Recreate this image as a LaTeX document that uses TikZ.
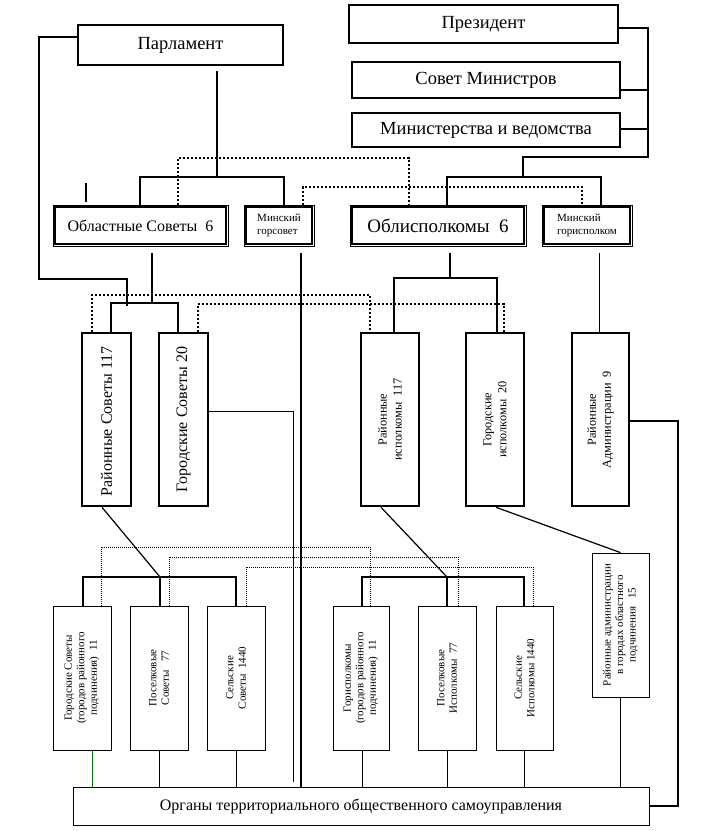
\documentclass[tikz,border=0pt]{standalone}
\usepackage{fontspec}
\setmainfont{Liberation Serif}
\begin{document}
\begin{tikzpicture}[x=1pt,y=-1pt,
  thickbox/.style={draw, line width=2.6pt, fill=white, inner sep=0pt, align=center},
  thinbox/.style={draw, line width=0.8pt, fill=white, inner sep=0pt, align=center},
  dblbox/.style={draw, line width=0.9pt, fill=white, inner sep=0pt, align=center},
  innerline/.style={line width=1.8pt},
  conn/.style={line width=1.6pt},
  connm/.style={line width=1.2pt},
  connt/.style={line width=0.8pt},
  dotk/.style={line width=2pt, dash pattern=on 2pt off 2pt},
  dott/.style={line width=0.7pt, dash pattern=on 1pt off 1pt},
  vtext/.style={rotate=90, align=center, inner sep=0pt},
  ftop/.style={font=\fontsize{18.5}{22}\selectfont},
  fbig/.style={font=\fontsize{16}{19}\selectfont},
  fmid/.style={font=\fontsize{12.3}{15}\selectfont},
  fsml/.style={font=\fontsize{11}{12.5}\selectfont},
  ftiny/.style={font=\fontsize{11}{13}\selectfont},
]
\path[use as bounding box] (0,0) rectangle (701,831);

% ---------- top boxes ----------
\node[thickbox, ftop, minimum width=205, minimum height=40] (parl) at (180.5,45) {\raisebox{-2pt}{Парламент}};
\node[thickbox, ftop, minimum width=269, minimum height=38] (pres) at (483.5,24) {Президент};
\node[thickbox, ftop, minimum width=268, minimum height=36] (sovmin) at (486,80) {Совет Министров};
\node[thickbox, ftop, minimum width=268, minimum height=34] (minist) at (486,130) {Министерства и ведомства};

% ---------- second row (double frames) ----------
\node[dblbox, fbig, minimum width=175, minimum height=41] (oblsov) at (140.5,225.5) {Областные Советы\ \ 6};
\node[dblbox, ftiny, minimum width=70, minimum height=41, align=left] (minsov) at (279,225.5) {Минский\\горсовет};
\node[dblbox, font=\fontsize{19}{22}\selectfont, minimum width=176, minimum height=41] (oblisp) at (438,225.5) {Облисполкомы\ \ 6};
\node[dblbox, ftiny, minimum width=90, minimum height=41, align=left] (minisp) at (587,225.5) {Минский\\горисполком};
\foreach \n in {oblsov,minsov,oblisp,minisp}
  \draw[innerline] ([shift={(2.8,2.8)}]\n.north west) rectangle ([shift={(-2.8,-2.8)}]\n.south east);

% ---------- vertical boxes ----------
\node[thickbox, minimum width=49, minimum height=173,
  label={[vtext, fbig, xshift=-2pt]center:Районные Советы 117}] (raisov) at (106.5,419.5) {};
\node[thickbox, minimum width=49, minimum height=173,
  label={[vtext, fbig]center:Городские Советы 20}] (gorsov) at (183.5,419.5) {};
\node[thickbox, minimum width=58, minimum height=173,
  label={[vtext, fmid]center:{Районные\\исполкомы\ \ 117}}] (raiisp) at (390,419.5) {};
\node[thickbox, minimum width=58, minimum height=173,
  label={[vtext, fmid]center:{Городские\\исполкомы\ \ 20}}] (gorisp) at (495,419.5) {};
\node[thickbox, minimum width=57, minimum height=173,
  label={[vtext, fmid]center:{Районные\\Администрации\ \ 9}}] (raiadm) at (600.5,419.5) {};
\node[thinbox, minimum width=57, minimum height=144,
  label={[vtext, fsml]center:{Районные администрации\\в городах областного\\подчинения\ \ \ 15}}] (raiadm2) at (620.5,625) {};

% ---------- bottom boxes ----------
\node[thinbox, minimum width=58, minimum height=144,
  label={[vtext, fsml]center:{Городские Советы\\(городов районного\\подчинения)\ \ 11}}] (b1) at (82,678) {};
\node[thinbox, minimum width=58, minimum height=144,
  label={[vtext, fsml]center:{Поселковые\\Советы\ \ \ 77}}] (b2) at (159,678) {};
\node[thinbox, minimum width=58, minimum height=144,
  label={[vtext, fsml]center:{Сельские\\Советы\ \ 1440}}] (b3) at (236,678) {};
\node[thinbox, minimum width=56, minimum height=144,
  label={[vtext, fsml]center:{Горисполкомы\\(городов районного\\подчинения)\ \ 11}}] (b4) at (361,678) {};
\node[thinbox, minimum width=58, minimum height=144,
  label={[vtext, fsml]center:{Поселковые\\Исполкомы\ \ 77}}] (b5) at (447,678) {};
\node[thinbox, minimum width=57, minimum height=144,
  label={[vtext, fsml]center:{Сельские\\Исполкомы\ 1440}}] (b6) at (524.5,678) {};
\node[thinbox, minimum width=576, minimum height=38, font=\fontsize{16}{18}\selectfont] (organy) at (361,806)
  {Органы территориального общественного самоуправления};

% ---------- coordinates ----------
\coordinate (pA) at (39,37);  \coordinate (pB) at (39,279);
\coordinate (pC) at (127,279); \coordinate (pD) at (127,306);
\coordinate (j1) at (217,177); \coordinate (j1l) at (140,177); \coordinate (j1r) at (284,177);
\coordinate (pr1) at (648,28); \coordinate (pr2) at (648,157);
\coordinate (pr3) at (523,157); \coordinate (pr4) at (523,177);
\coordinate (pr5) at (648,90); \coordinate (pr6) at (648,129);
\coordinate (j2l) at (447,177); \coordinate (j2r) at (601,177);
\coordinate (d1a) at (178,158); \coordinate (d1b) at (409,158);
\coordinate (d2a) at (303,187); \coordinate (d2b) at (582,187);
\coordinate (s1) at (86,183); \coordinate (s2) at (86,202);
\coordinate (j3) at (152,303); \coordinate (j3l) at (111,303); \coordinate (j3r) at (178,303);
\coordinate (j4) at (450,278); \coordinate (j4l) at (394,278); \coordinate (j4r) at (497,278);
\coordinate (m1) at (599,253); \coordinate (m2) at (301,253);
\coordinate (g1) at (293,411); \coordinate (g2) at (293,782);
\coordinate (r1) at (678,421);
\coordinate (d3a) at (92,295); \coordinate (d3b) at (370,295);
\coordinate (d4a) at (198,304); \coordinate (d4b) at (504,304);
\coordinate (dg1) at (102,508); \coordinate (j5) at (160,577);
\coordinate (j5l) at (83,577); \coordinate (j5r) at (236,577);
\coordinate (dg2) at (381,508); \coordinate (j6) at (447,577);
\coordinate (j6l) at (362,577); \coordinate (j6r) at (524,577);
\coordinate (dg3) at (496,508);
\coordinate (e1) at (101,547); \coordinate (e2) at (370,547);
\coordinate (f1) at (169,557); \coordinate (f2) at (458,557);
\coordinate (h1) at (246,567); \coordinate (h2) at (533,567);
\coordinate (v1) at (92,750); \coordinate (v4) at (362,750); \coordinate (v6) at (524,750);

% ---------- connectors ----------
\draw[conn] (parl.west |- pA) -- (pA) -- (pB) -- (pC) -- (pD);
\draw[conn, shorten <=5pt] (parl.south -| j1) -- (j1);
\draw[conn] (j1l |- oblsov.north) -- (j1l) -- (j1r) -- (j1r |- minsov.north);
\draw[conn] (pres.east |- pr1) -- (pr1) -- (pr2) -- (pr3) -- (pr4);
\draw[conn] (sovmin.east |- pr5) -- (pr5);
\draw[conn] (minist.east |- pr6) -- (pr6);
\draw[conn] (j2l |- oblisp.north) -- (j2l) -- (j2r) -- (j2r |- minisp.north);
\draw[dotk] (d1a |- oblsov.north) -- (d1a) -- (d1b) -- (d1b |- oblisp.north);
\draw[dotk] (d2a |- minsov.north) -- (d2a) -- (d2b) -- (d2b |- minisp.north);
\draw[conn] (s1) -- (s2);

\draw[connm, shorten <=7pt] (oblsov.south -| j3) -- (j3);
\draw[connm] (j3l |- raisov.north) -- (j3l) -- (j3r) -- (j3r |- gorsov.north);
\draw[conn, shorten <=7pt] (oblisp.south -| j4) -- (j4);
\draw[conn] (j4l |- raiisp.north) -- (j4l) -- (j4r) -- (j4r |- gorisp.north);
\draw[connt, shorten <=7pt] (minisp.south -| m1) -- (m1 |- raiadm.north);
\draw[connm, shorten <=7pt] (minsov.south -| m2) -- (m2 |- organy.north);
\draw[dotk] (d3a |- raisov.north) -- (d3a) -- (d3b) -- (d3b |- raiisp.north);
\draw[dotk] (d4a |- gorsov.north) -- (d4a) -- (d4b) -- (d4b |- gorisp.north);

\draw[connt] (gorsov.east |- g1) -- (g1) -- (g2);
\draw[conn] (raiadm.east |- r1) -- (r1) -- (r1 |- organy.east) -- (organy.east);

\draw[connm] (raisov.south -| dg1) -- (j5);
\draw[conn] (j5l |- b1.north) -- (j5l) -- (j5r) -- (j5r |- b3.north);
\draw[conn] (j5) -- (j5 |- b2.north);
\draw[connm] (raiisp.south -| dg2) -- (j6);
\draw[conn] (j6l |- b4.north) -- (j6l) -- (j6r) -- (j6r |- b6.north);
\draw[conn] (j6) -- (j6 |- b5.north);
\draw[connm] (gorisp.south -| dg3) -- (raiadm2.north);

\draw[dott] (e1 |- b1.north) -- (e1) -- (e2) -- (e2 |- b4.north);
\draw[dott] (f1 |- b2.north) -- (f1) -- (f2) -- (f2 |- b5.north);
\draw[dott] (h1 |- b3.north) -- (h1) -- (h2) -- (h2 |- b6.north);

\draw[connt, green!45!black] (v1) -- (v1 |- organy.north);
\draw[connt] (b2.south) -- (b2.south |- organy.north);
\draw[connt] (b3.south) -- (b3.south |- organy.north);
\draw[connt] (v4) -- (v4 |- organy.north);
\draw[connt] (b5.south) -- (b5.south |- organy.north);
\draw[connt] (v6) -- (v6 |- organy.north);
\draw[connt] (raiadm2.south) -- (raiadm2.south |- organy.north);
\end{tikzpicture}
\end{document}
